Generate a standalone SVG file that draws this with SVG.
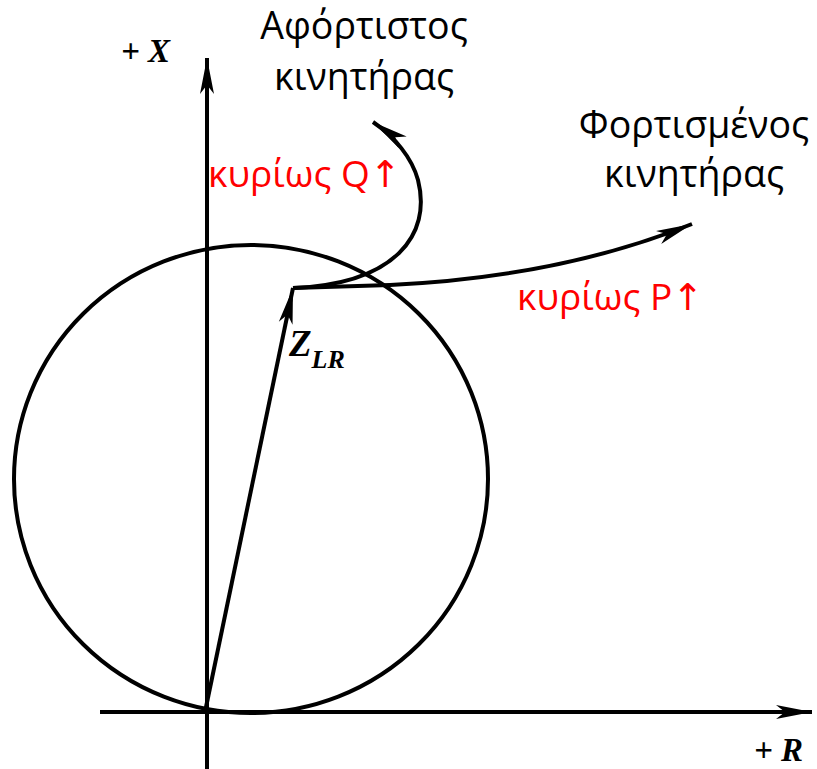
<svg xmlns="http://www.w3.org/2000/svg" width="817" height="769" viewBox="0 0 817 769">
<style>
.ln{fill:none;stroke:#000;stroke-width:4;stroke-linecap:butt}
.gk{font-family:"Open Sans","Noto Sans","DejaVu Sans",sans-serif;font-size:37.5px;fill:#000}
.rd{font-family:"Open Sans","Noto Sans","DejaVu Sans",sans-serif;font-size:37px;fill:#ff0000}
.ax{font-family:"Liberation Serif","DejaVu Serif",serif;font-weight:bold;font-style:italic;fill:#000}
</style>
<defs>
<marker id="ah" markerUnits="userSpaceOnUse" viewBox="-36 -8 38 16" markerWidth="38" markerHeight="16" refX="0" refY="0" orient="auto">
<path d="M0,0 L-36,-7 L-27,0 L-36,7 Z" fill="#000"/>
</marker>
</defs>
<rect width="817" height="769" fill="#fff"/>
<g id="axes">
<line id="x-axis" class="ln" x1="100" y1="712" x2="812" y2="712" marker-end="url(#ah)"/>
<line id="y-axis" class="ln" x1="207" y1="769" x2="207" y2="58" marker-end="url(#ah)"/>
<text class="ax" x="121" y="62" font-size="33">+ X</text>
<text class="ax" x="754" y="761" font-size="33">+ R</text>
</g>
<g id="circle">
<ellipse class="ln" cx="251" cy="479" rx="237" ry="234"/>
</g>
<g id="connectors">
<line id="zlr" class="ln" x1="205" y1="712" x2="293" y2="288" marker-end="url(#ah)"/>
<path id="p-path" class="ln" d="M293,288 L390,285 Q560,277 692,224" marker-end="url(#ah)"/>
<path id="q-path" class="ln" d="M293,288 C395,284 432,235 418,180 C412,158 395,137 373,122" marker-end="url(#ah)"/>
</g>
<g id="zlr-label">
<text class="ax" x="289" y="356" font-size="37">Z<tspan font-size="26" dy="12">LR</tspan></text>
</g>
<g id="unloaded">
<text class="gk" x="364" y="39" text-anchor="middle">Αφόρτιστος</text>
<text class="gk" x="364" y="90" text-anchor="middle">κινητήρας</text>
</g>
<g id="loaded">
<text class="gk" x="694" y="138" text-anchor="middle">Φορτισμένος</text>
<text class="gk" x="694" y="187" text-anchor="middle">κινητήρας</text>
</g>
<g id="q-label">
<text class="rd" x="208" y="187">κυρίως Q↑</text>
</g>
<g id="p-label">
<text class="rd" x="517" y="310">κυρίως P↑</text>
</g>
</svg>
